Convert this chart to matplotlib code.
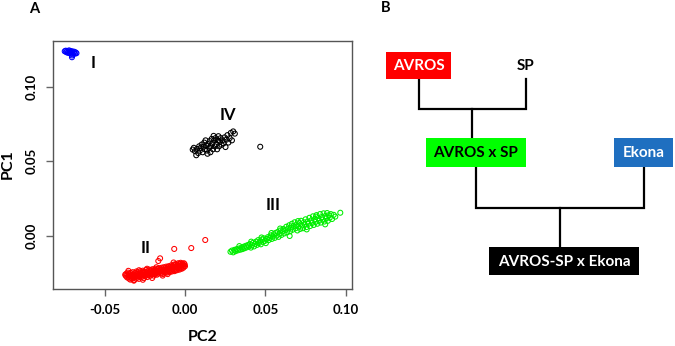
import matplotlib
matplotlib.use("Agg")
import matplotlib.pyplot as plt
from matplotlib.patches import Rectangle

plt.rcParams['font.family'] = ['Lato', 'DejaVu Sans']
plt.rcParams['font.weight'] = 'bold'

# ---- panel A data (PC2, PC1) ----
grp1_x = [-0.0748, -0.0742, -0.0738, -0.0733, -0.0729, -0.0725, -0.0721, -0.0718, -0.0715, -0.0711,
          -0.0708, -0.0705, -0.0702, -0.0700, -0.0697, -0.0693, -0.0689, -0.0685, -0.0680, -0.0675, -0.0703]
grp1_y = [0.1238, 0.1242, 0.1232, 0.1240, 0.1228, 0.1236, 0.1244, 0.1225, 0.1233, 0.1240,
          0.1222, 0.1230, 0.1210, 0.1237, 0.1218, 0.1228, 0.1235, 0.1222, 0.1230, 0.1225, 0.1198]

grp2_x = [-0.0372, -0.0368, -0.0365, -0.0360, -0.0358, -0.0355, -0.0350, -0.0348, -0.0345, -0.0342,
          -0.0340, -0.0337, -0.0335, -0.0332, -0.0330, -0.0327, -0.0325, -0.0322, -0.0320, -0.0318,
          -0.0315, -0.0312, -0.0310, -0.0307, -0.0305, -0.0302, -0.0300,
          -0.0297, -0.0295, -0.0292, -0.0290, -0.0287, -0.0285, -0.0282, -0.0280, -0.0277, -0.0275,
          -0.0272, -0.0270, -0.0267, -0.0265, -0.0262, -0.0260, -0.0257, -0.0255, -0.0252, -0.0250,
          -0.0247, -0.0245, -0.0242, -0.0240, -0.0237, -0.0235, -0.0232, -0.0230, -0.0227, -0.0225,
          -0.0222, -0.0220, -0.0217, -0.0215, -0.0212, -0.0210, -0.0207, -0.0205, -0.0202, -0.0200,
          -0.0197, -0.0195, -0.0192, -0.0190, -0.0187, -0.0185, -0.0182, -0.0180, -0.0177, -0.0175,
          -0.0172, -0.0170, -0.0167, -0.0165, -0.0162, -0.0160, -0.0157, -0.0155, -0.0166,
          -0.0150, -0.0147, -0.0145, -0.0142, -0.0140, -0.0137, -0.0135, -0.0132, -0.0130, -0.0127,
          -0.0125, -0.0122, -0.0120, -0.0117, -0.0115, -0.0112, -0.0110, -0.0107, -0.0105, -0.0102,
          -0.0100, -0.0097, -0.0095, -0.0092, -0.0090, -0.0087, -0.0085, -0.0082, -0.0080, -0.0077,
          -0.0075, -0.0072, -0.0070, -0.0067, -0.0065, -0.0062, -0.0060, -0.0057, -0.0055, -0.0052,
          -0.0050, -0.0047, -0.0045, -0.0042, -0.0040, -0.0037, -0.0035, -0.0032, -0.0030, -0.0027,
          -0.0025, -0.0022, -0.0020, -0.0017, -0.0015, -0.0012, -0.0010, -0.0007, -0.0005, -0.0002,
          0.0000, -0.0067, 0.0039, 0.0126,
          -0.0352, -0.0318, -0.0286, -0.0262, -0.0236, -0.0204, -0.0178, -0.0139, -0.0108, -0.0071]
grp2_y = [-0.0262, -0.0270, -0.0255, -0.0280, -0.0265, -0.0248, -0.0275, -0.0288, -0.0258, -0.0268,
          -0.0295, -0.0250, -0.0280, -0.0262, -0.0290, -0.0272, -0.0245, -0.0285, -0.0258, -0.0298,
          -0.0268, -0.0278, -0.0250, -0.0288, -0.0262, -0.0240, -0.0272,
          -0.0282, -0.0255, -0.0265, -0.0245, -0.0290, -0.0270, -0.0252, -0.0262, -0.0238, -0.0280,
          -0.0258, -0.0268, -0.0248, -0.0275, -0.0235, -0.0260, -0.0285, -0.0250, -0.0266, -0.0242,
          -0.0272, -0.0255, -0.0230, -0.0262, -0.0245, -0.0278, -0.0252, -0.0238, -0.0265, -0.0248,
          -0.0228, -0.0258, -0.0270, -0.0240, -0.0252, -0.0232, -0.0262, -0.0245, -0.0225, -0.0255,
          -0.0238, -0.0268, -0.0248, -0.0228, -0.0258, -0.0240, -0.0222, -0.0252, -0.0235, -0.0262,
          -0.0245, -0.0225, -0.0255, -0.0238, -0.0218, -0.0248, -0.0232, -0.0152, -0.0170,
          -0.0228, -0.0252, -0.0215, -0.0240, -0.0225, -0.0258, -0.0232, -0.0212, -0.0245, -0.0228,
          -0.0250, -0.0218, -0.0235, -0.0208, -0.0242, -0.0225, -0.0248, -0.0215, -0.0232, -0.0205,
          -0.0238, -0.0220, -0.0245, -0.0210, -0.0228, -0.0200, -0.0235, -0.0215, -0.0240, -0.0205,
          -0.0225, -0.0195, -0.0232, -0.0212, -0.0238, -0.0200, -0.0220, -0.0190, -0.0228, -0.0208,
          -0.0232, -0.0195, -0.0215, -0.0185, -0.0222, -0.0202, -0.0228, -0.0190, -0.0212, -0.0182,
          -0.0218, -0.0198, -0.0222, -0.0188, -0.0208, -0.0195, -0.0215, -0.0185, -0.0202, -0.0192,
          -0.0205, -0.0089, -0.0083, -0.0029,
          -0.0236, -0.0302, -0.0232, -0.0296, -0.0222, -0.0284, -0.0212, -0.0268, -0.0258, -0.0180]

grp3_x = [0.0283, 0.0292, 0.0300, 0.0308, 0.0315, 0.0322, 0.0330, 0.0337, 0.0345, 0.0352,
          0.0358, 0.0365, 0.0372, 0.0378, 0.0385, 0.0392, 0.0398,
          0.0405, 0.0410, 0.0417, 0.0423, 0.0430, 0.0436, 0.0442, 0.0448, 0.0455, 0.0460,
          0.0467, 0.0472, 0.0478, 0.0485, 0.0490, 0.0497, 0.0503, 0.0508, 0.0515, 0.0520,
          0.0527, 0.0533, 0.0540, 0.0546, 0.0552,
          0.0558, 0.0563, 0.0570, 0.0576, 0.0582, 0.0588, 0.0594, 0.0600, 0.0606, 0.0612,
          0.0618, 0.0624, 0.0630, 0.0636, 0.0642, 0.0648, 0.0654, 0.0660, 0.0665, 0.0670,
          0.0676, 0.0682, 0.0688, 0.0694, 0.0699,
          0.0705, 0.0710, 0.0716, 0.0722, 0.0728, 0.0734, 0.0740, 0.0745, 0.0750, 0.0756,
          0.0762, 0.0768, 0.0774, 0.0779, 0.0785, 0.0790, 0.0796, 0.0801, 0.0807, 0.0812,
          0.0818, 0.0823, 0.0829, 0.0834, 0.0840, 0.0845, 0.0851, 0.0856, 0.0862, 0.0867,
          0.0873, 0.0878, 0.0884, 0.0889, 0.0895,
          0.0900, 0.0907, 0.0915, 0.0925, 0.0935, 0.0966,
          0.0338, 0.0412, 0.0476, 0.0538, 0.0592, 0.0651, 0.0703, 0.0757, 0.0815, 0.0872]
grp3_y = [-0.0108, -0.0100, -0.0112, -0.0095, -0.0104, -0.0090, -0.0098, -0.0086, -0.0094, -0.0080,
          -0.0090, -0.0074, -0.0084, -0.0068, -0.0078, -0.0062, -0.0072,
          -0.0056, -0.0080, -0.0065, -0.0048, -0.0072, -0.0055, -0.0040, -0.0062, -0.0030, -0.0050,
          -0.0038, -0.0058, -0.0025, -0.0042, -0.0018, -0.0035, -0.0050, -0.0022, -0.0010, -0.0030,
          -0.0015, 0.0002, -0.0022, -0.0005, 0.0010,
          -0.0015, 0.0018, 0.0000, 0.0025, -0.0008, 0.0012, 0.0035, 0.0005, 0.0028, 0.0045,
          0.0015, 0.0038, 0.0060, 0.0022, 0.0048, 0.0070, 0.0030, 0.0055, 0.0080, 0.0040,
          0.0065, 0.0090, 0.0050, 0.0072, 0.0035,
          0.0060, 0.0085, 0.0045, 0.0100, 0.0068, 0.0050, 0.0090, 0.0075, 0.0110, 0.0058,
          0.0095, 0.0080, 0.0120, 0.0065, 0.0102, 0.0085, 0.0130, 0.0072, 0.0110, 0.0092,
          0.0138, 0.0080, 0.0118, 0.0100, 0.0145, 0.0088, 0.0125, 0.0108, 0.0150, 0.0095,
          0.0132, 0.0115, 0.0152, 0.0100, 0.0138,
          0.0120, 0.0145, 0.0112, 0.0140, 0.0128, 0.0154,
          -0.0070, -0.0040, -0.0012, 0.0018, 0.0048, -0.0002, 0.0098, 0.0042, 0.0128, 0.0076]

grp4_x = [0.0048, 0.0055, 0.0062, 0.0070, 0.0075, 0.0082, 0.0088, 0.0092, 0.0098, 0.0104,
          0.0110, 0.0115, 0.0120, 0.0124, 0.0128, 0.0132, 0.0136, 0.0140, 0.0145, 0.0150,
          0.0154, 0.0158, 0.0162, 0.0166, 0.0170, 0.0174, 0.0178, 0.0182, 0.0186, 0.0190,
          0.0195, 0.0200, 0.0204, 0.0208, 0.0212, 0.0218, 0.0222, 0.0228, 0.0234, 0.0240,
          0.0246, 0.0252, 0.0258, 0.0264, 0.0270, 0.0278, 0.0285, 0.0292, 0.0300, 0.0310, 0.0468]
grp4_y = [0.0578, 0.0590, 0.0568, 0.0540, 0.0582, 0.0555, 0.0600, 0.0570, 0.0590, 0.0612,
          0.0560, 0.0598, 0.0625, 0.0580, 0.0640, 0.0605, 0.0572, 0.0550, 0.0615, 0.0590,
          0.0635, 0.0560, 0.0600, 0.0650, 0.0620, 0.0580, 0.0670, 0.0640, 0.0600, 0.0655,
          0.0615, 0.0580, 0.0640, 0.0668, 0.0600, 0.0630, 0.0655, 0.0610, 0.0640, 0.0620,
          0.0660, 0.0595, 0.0645, 0.0675, 0.0625, 0.0655, 0.0690, 0.0640, 0.0700, 0.0685, 0.0597]

groups = [(grp1_x, grp1_y, '#0000ff'), (grp2_x, grp2_y, '#ff0000'),
          (grp3_x, grp3_y, '#00ee00'), (grp4_x, grp4_y, 'black')]
group_names = ['I', 'II', 'III', 'IV']
name_pos = [(-0.0572, 0.1159), (-0.0243, -0.0083), (0.0549, 0.0206), (0.0267, 0.0810)]

xticks = [-0.05, 0.00, 0.05, 0.10]
yticks = [0.00, 0.05, 0.10]

# ---- panel B pedigree ----
nodes = ['AVROS', 'SP', 'AVROS x SP', 'Ekona', 'AVROS-SP x Ekona']
node_fill = ['#ff0000', 'none', '#00ff00', '#1f6fc0', 'black']
node_text = ['white', 'black', 'black', 'white', 'white']
# box (left, top, width, height) in figure pixels
node_box = [(386, 52, 65, 27), (500, 52, 52, 27), (426, 138, 100, 29),
            (614, 138, 59, 29), (489, 247, 150, 28)]
crosses = [(0, 1, 2), (2, 3, 4)]  # parent a, parent b, child
cross_y = [109, 208]

fig = plt.figure(figsize=(6.75, 3.46), dpi=100)
W, H = 675, 346

ax = fig.add_axes([53 / W, 1 - 289 / H, (351.7 - 53) / W, (289 - 41) / H])
for (gx, gy, col) in groups:
    ax.scatter(gx, gy, s=13, facecolors='none', edgecolors=col, linewidths=0.75)
for name, (px, py) in zip(group_names, name_pos):
    ax.text(px, py, name, fontsize=12, fontweight='bold', ha='center', va='center')

ax.set_xlim(-0.0821, 0.1037)
ax.set_ylim(-0.0358, 0.1307)
ax.set_xticks(xticks)
ax.set_xticklabels(['%.2f' % v for v in xticks])
ax.set_yticks(yticks)
ax.set_yticklabels(['%.2f' % v for v in yticks], rotation=90, va='center')
ax.tick_params(direction='out', length=5, width=1, color='#666666',
               labelsize=9.5, pad=6)
for lab in ax.get_xticklabels() + ax.get_yticklabels():
    lab.set_fontweight('bold')
for sp in ax.spines.values():
    sp.set_color('#555555')
    sp.set_linewidth(1)
ax.set_xlabel('PC2', fontsize=11.5, fontweight='bold')
ax.set_ylabel('PC1', fontsize=11.5, fontweight='bold')
ax.xaxis.set_label_coords(0.5, -0.165)
ax.yaxis.set_label_coords(-0.128, 0.504)

# overlay axes in pixel coordinates for panel labels and diagram
ov = fig.add_axes([0, 0, 1, 1])
ov.set_xlim(0, W)
ov.set_ylim(H, 0)
ov.axis('off')
ov.text(34, 9, 'A', fontsize=10.5, fontweight='bold', ha='center', va='center')
ov.text(386, 8, 'B', fontsize=10.5, fontweight='bold', ha='center', va='center')

lw = 1.6
for (a, b, c), yy in zip(crosses, cross_y):
    la, ta, wa, ha_ = node_box[a]
    lb, tb, wb, hb = node_box[b]
    lc, tc, wc, hc = node_box[c]
    xa = la + wa / 2
    xb = lb + wb / 2
    xm = (xa + xb) / 2
    ov.plot([xa, xa, xb, xb], [ta + ha_, yy, yy, tb + hb], color='black', lw=lw,
            solid_joinstyle='miter')
    ov.plot([xm, xm], [yy, tc], color='black', lw=lw)

for name, fill, tcol, (l, t, w, h) in zip(nodes, node_fill, node_text, node_box):
    if fill != 'none':
        ov.add_patch(Rectangle((l, t), w, h, facecolor=fill, edgecolor='none', zorder=3))
    ov.text(l + w / 2, t + h / 2 + 0.5, name, color=tcol, fontsize=11, fontweight='bold',
            ha='center', va='center', zorder=4)

fig.savefig('out.png', dpi=100)
